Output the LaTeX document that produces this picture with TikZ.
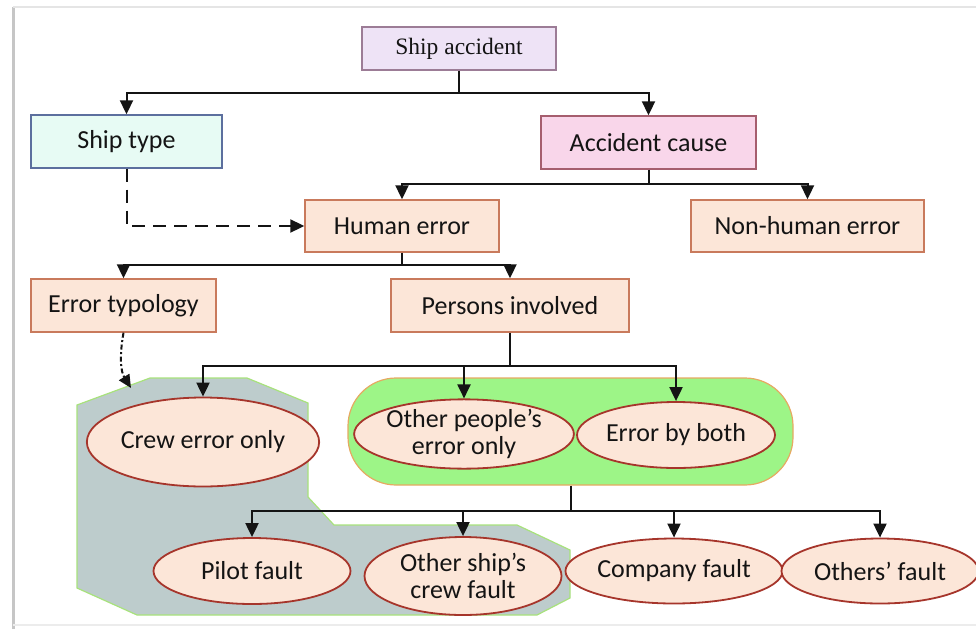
\documentclass[tikz,border=0pt]{standalone}
\usepackage{fontspec}
\setmainfont{Carlito}
\newfontfamily\shipserif{Liberation Serif}
\usepackage{tikz}
\usetikzlibrary{shapes.geometric, arrows.meta, positioning}

\definecolor{ink}{HTML}{141414}
\definecolor{lilacfill}{HTML}{EEE3F6}
\definecolor{lilacline}{HTML}{9C7C96}
\definecolor{mintfill}{HTML}{E7FBF4}
\definecolor{mintline}{HTML}{5C6F9E}
\definecolor{pinkfill}{HTML}{F9D6EA}
\definecolor{pinkline}{HTML}{A65E6E}
\definecolor{peachfill}{HTML}{FCE6D8}
\definecolor{peachline}{HTML}{C97A5C}
\definecolor{ovalline}{HTML}{A6352B}
\definecolor{zonefill}{HTML}{BDCCCC}
\definecolor{zoneline}{HTML}{A8E27C}
\definecolor{barfill}{HTML}{9DF587}
\definecolor{barline}{HTML}{E6A962}

\begin{document}
\begin{tikzpicture}[x=1pt, y=-1pt,
    box/.style={rectangle, line width=1.4pt, minimum height=53pt, inner sep=0pt,
                text=ink, font=\fontsize{26}{27}\selectfont},
    oval/.style={ellipse, draw=ovalline, fill=peachfill, line width=1.8pt, inner sep=0pt,
                 minimum width=197pt, text=ink, align=center,
                 font=\fontsize{26}{26.5}\selectfont},
    arr/.style={line width=2pt, draw=ink, -{Triangle[length=14pt, width=13pt]}},
    link/.style={line width=2pt, draw=ink}]
    \useasboundingbox (0,0) rectangle (976,629);
    % page shadow
    \draw[gray!45, line width=3pt] (13,7) -- (13,629);
    \draw[gray!20, line width=1.5pt] (13,7) -- (976,7);
    \draw[gray!15, line width=1.5pt] (13,625) -- (976,625);

    % highlighted zones
    \filldraw[fill=zonefill, draw=zoneline, line width=1.2pt]
        (77,405) -- (150,378) -- (247,378) -- (308,403) -- (308,497) -- (334,525)
        -- (517,525) -- (570,550) -- (570,598) -- (537,615) -- (137,615) -- (77,588) -- cycle;
    \node[rectangle, rounded corners=48pt, fill=barfill, draw=barline, line width=1.2pt,
          minimum width=445pt, minimum height=107pt] (grp) at (570.5,431.5) {};

    % boxes
    \node[box, fill=lilacfill, draw=lilacline, minimum width=194pt, minimum height=43pt,
          font=\shipserif\fontsize{23.5}{25}\selectfont] (sa) at (459,48.5) {Ship accident};
    \node[box, fill=mintfill, draw=mintline, minimum width=191pt] (st) at (126.5,141.5) {Ship type};
    \node[box, fill=pinkfill, draw=pinkline, minimum width=215pt] (ac) at (648.5,142.5) {Accident cause};
    \node[box, fill=peachfill, draw=peachline, minimum width=194pt, minimum height=52pt] (he) at (402,226) {Human error};
    \node[box, fill=peachfill, draw=peachline, minimum width=233pt, minimum height=52pt] (nh) at (807.5,226) {Non-human error};
    \node[box, fill=peachfill, draw=peachline, minimum width=185pt] (et) at (123.5,305.5) {Error typology};
    \node[box, fill=peachfill, draw=peachline, minimum width=238pt] (pi) at (510,305.5) {Persons involved};

    % ovals
    \foreach \n/\x/\y/\h/\t in {ce/203/442/89/{Crew error only},
                                op/464/434/67/{Other people’s\\error only},
                                eb/676/435/66/{Error by both},
                                pf/252/571/66/{Pilot fault},
                                os/463/576/78/{Other ship’s\\crew fault},
                                cf/674/571/65/{Company fault},
                                of/880/571/65/{Others’ fault}} {
        \node[oval, minimum height=\h pt] (\n) at (\x,\y) {\t};
    }

    % tree connectors
    \draw[link] (sa.south) -- ++(0,22) coordinate (saj);
    \foreach \m in {st, ac}
        \draw[arr] (saj) -| (\m.north);
    \draw[link] (ac.south) -- ++(0,14) coordinate (acj);
    \foreach \m in {he, nh}
        \draw[arr] (acj) -| (\m.north);
    \draw[link] (he.south) -- ++(0,12) coordinate (hej);
    \foreach \m in {et, pi}
        \draw[arr] (hej) -| (\m.north);
    \draw[link] (pi.south) -- ++(0,33) coordinate (pij);
    \foreach \m in {ce, op, eb}
        \draw[arr] (pij) -| (\m.north);
    \draw[link] (grp.south) -- ++(0,25) coordinate (grpj);
    \foreach \m in {pf, os, cf, of}
        \draw[arr] (grpj) -| (\m.north);

    % influence links
    \draw[arr, dash pattern=on 13pt off 8pt] (st.south) |- (he.west);
    \coordinate (crewzone) at (131,388);
    \draw[arr, line width=2pt, -{Triangle[length=13pt, width=12pt]},
          dash pattern=on 5pt off 2.5pt on 2pt off 2.5pt]
        (et.south) .. controls (119,358) and (121,372) .. (crewzone);
\end{tikzpicture}
\end{document}
